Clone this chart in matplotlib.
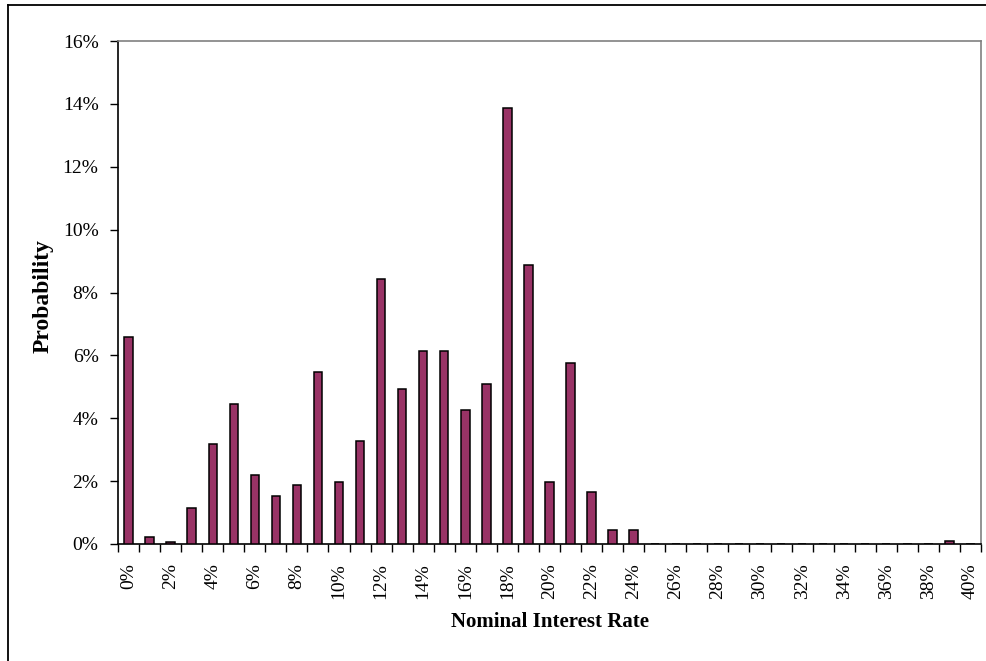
import matplotlib
matplotlib.use("Agg")
import matplotlib.pyplot as plt
import numpy as np
from matplotlib.lines import Line2D
from matplotlib.ticker import FuncFormatter

rates = [f"{i}%" for i in range(41)]
probability = [6.57, 0.21, 0.05, 1.15, 3.18, 4.45, 2.19, 1.53, 1.87, 5.48,
               1.97, 3.29, 8.44, 4.94, 6.13, 6.13, 4.27, 5.10, 13.88, 8.89,
               1.98, 5.77, 1.64, 0.44, 0.44, 0, 0, 0, 0, 0,
               0, 0, 0, 0, 0, 0, 0, 0, 0, 0.10, 0]
y_ticks = [0, 2, 4, 6, 8, 10, 12, 14, 16]

plt.rcParams['font.family'] = ['Liberation Serif', 'DejaVu Serif']

fig = plt.figure(figsize=(9.87, 6.61), dpi=100)
ax = fig.add_axes([118 / 987, 1 - 544 / 661, (981 - 118) / 987, (544 - 41) / 661])

x = np.arange(len(rates))
ax.bar(x, probability, width=0.4, color='#993366', edgecolor='black', linewidth=1.1, zorder=3)

ax.set_xlim(-0.5, len(rates) - 0.5)
ax.set_ylim(0, 16)

# category labels every 2%, tick marks between categories
ax.set_xticks(x[::2])
ax.set_xticklabels(rates[::2], rotation=90, fontsize=14)
ax.set_xticks(np.arange(-0.5, len(rates)), minor=True)
ax.tick_params(axis='x', which='major', length=0, pad=14)
ax.tick_params(axis='x', which='minor', length=6, width=1, color='black', direction='out')

ax.set_yticks(y_ticks)
ax.yaxis.set_major_formatter(FuncFormatter(lambda v, p: f"{int(v)}%"))
ax.tick_params(axis='y', length=6, width=1, pad=8, labelsize=14, direction='out')

for side in ['top', 'right']:
    ax.spines[side].set_color('#808080')
    ax.spines[side].set_linewidth(1.2)
for side in ['left', 'bottom']:
    ax.spines[side].set_color('black')
    ax.spines[side].set_linewidth(1.2)

fig.text(550 / 987, 1 - 622 / 661, 'Nominal Interest Rate', ha='center', va='center',
         fontsize=15, fontweight='bold')
fig.text(43 / 987, 1 - 296 / 661, 'Probability', ha='center', va='center',
         rotation=90, fontsize=17, fontweight='bold')

# outer chart border (left and top edges visible)
bx = 8 / 987
by = 1 - 5 / 661
fig.add_artist(Line2D([bx, bx], [0, by], color='black', linewidth=1.3))
fig.add_artist(Line2D([bx, 1], [by, by], color='black', linewidth=1.3))

plt.savefig("out.png", dpi=100)
